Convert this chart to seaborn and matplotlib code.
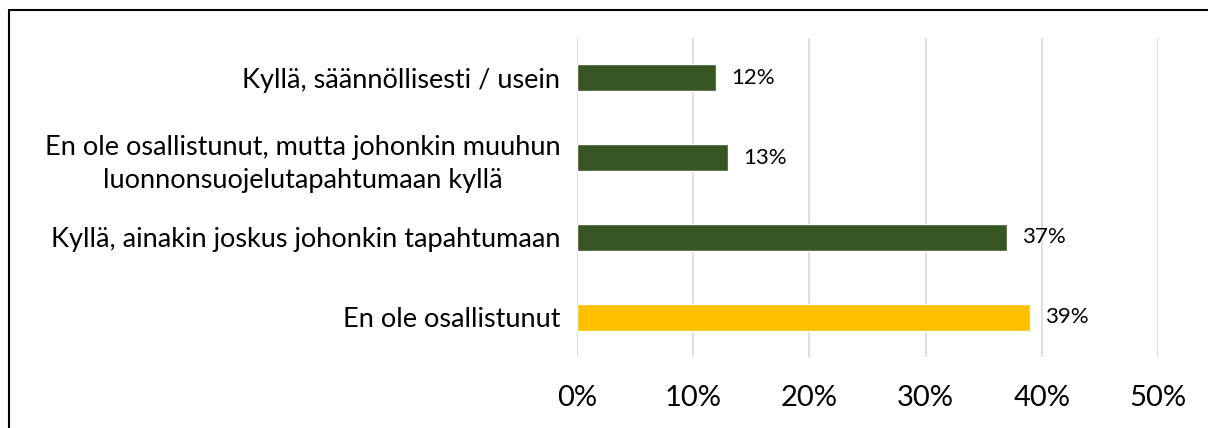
import pandas as pd
import matplotlib.pyplot as plt
import seaborn as sns
from matplotlib.lines import Line2D
from matplotlib.ticker import PercentFormatter

categories = [
    "Kyllä, säännöllisesti / usein",
    "En ole osallistunut, mutta johonkin muuhun\nluonnonsuojelutapahtumaan kyllä",
    "Kyllä, ainakin joskus johonkin tapahtumaan",
    "En ole osallistunut",
]
values = [0.12, 0.13, 0.37, 0.39]
bar_colors = ["#375623", "#375623", "#375623", "#FFC000"]

df = pd.DataFrame({"vastaus": categories, "osuus": values})

sns.set_style("white")
plt.rcParams["font.family"] = ["Lato", "DejaVu Sans"]

fig = plt.figure(figsize=(12.08, 4.28), dpi=100)
ax = fig.add_axes([577 / 1208, 1 - 357 / 428, 581 / 1208, 319 / 428])

sns.barplot(data=df, x="osuus", y="vastaus", hue="vastaus", palette=bar_colors,
            saturation=1, legend=False, width=0.34, ax=ax, zorder=3)

ax.set_xlim(0, 0.5)
ax.set_xticks([0, 0.1, 0.2, 0.3, 0.4, 0.5])
ax.xaxis.set_major_formatter(PercentFormatter(1.0, decimals=0))
ax.grid(axis="x", color="#d9d9d9", linewidth=1.2, zorder=0)
ax.set_xlabel("")
ax.set_ylabel("")
for s in ax.spines.values():
    s.set_visible(False)
ax.tick_params(axis="x", length=0, pad=20, labelsize=21, labelcolor="#000000")
ax.tick_params(axis="y", length=0, pad=12, labelsize=19.5, labelcolor="#000000")
for lbl in ax.get_yticklabels():
    lbl.set_linespacing(1.4)
    lbl.set_multialignment("center")

for i, v in enumerate(values):
    ax.text(v + 0.013, i, f"{v * 100:.0f}%", va="center", ha="left",
            fontsize=16, color="#000000")

# chart frame (left + top visible)
fig.add_artist(Line2D([8.5 / 1208, 8.5 / 1208], [0, 1 - 9.5 / 428],
                      color="black", linewidth=1.5, transform=fig.transFigure))
fig.add_artist(Line2D([8.5 / 1208, 1], [1 - 9.5 / 428, 1 - 9.5 / 428],
                      color="black", linewidth=1.5, transform=fig.transFigure))

fig.savefig("out.png", dpi=100)
